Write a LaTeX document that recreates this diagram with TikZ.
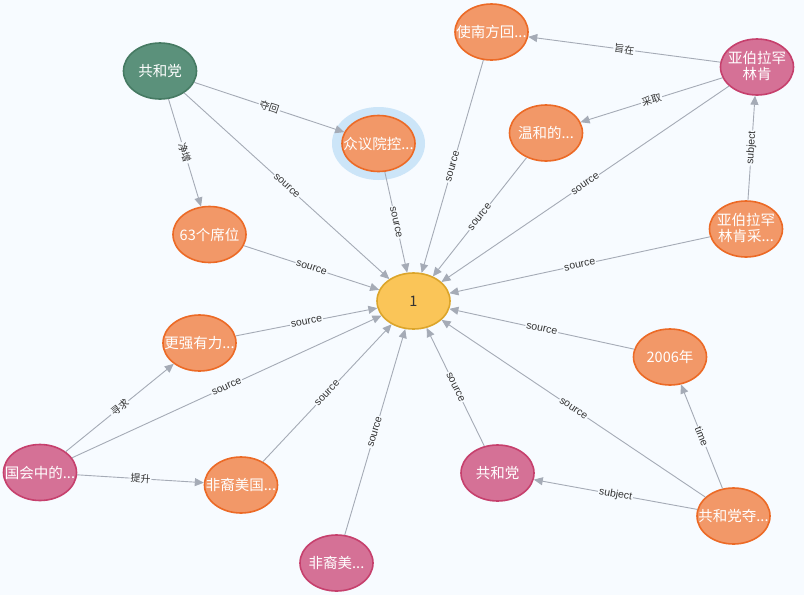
\documentclass[tikz,border=0pt]{standalone}
\usepackage{fontspec}
\setmainfont{Liberation Sans}
\newfontfamily\cjk{Noto Sans CJK SC}
\usetikzlibrary{arrows.meta,shapes.geometric}
\definecolor{bg}{HTML}{F7FBFF}
\definecolor{ofill}{HTML}{F29868}
\definecolor{oline}{HTML}{EC6A26}
\definecolor{pfill}{HTML}{D57196}
\definecolor{pline}{HTML}{C6406D}
\definecolor{gfill}{HTML}{5B917B}
\definecolor{gline}{HTML}{467A63}
\definecolor{yfill}{HTML}{FAC558}
\definecolor{yline}{HTML}{DCA52A}
\definecolor{edgec}{HTML}{A5ABB6}
\definecolor{labc}{HTML}{333333}
\definecolor{haloc}{HTML}{CCE5F8}
\newcommand{\zt}[1]{\makebox[0pt]{#1}}
\newcommand{\zz}[2]{\makebox[0pt]{\begin{tabular}{@{}c@{}}#1\\#2\end{tabular}}}
\begin{document}
\begin{tikzpicture}[x=1pt,y=-1pt,
  base/.style={ellipse, minimum width=73pt, minimum height=56pt, inner sep=0pt,
    line width=1.6pt, text=white, font=\cjk\fontsize{14.5}{12.5}\selectfont},
  onode/.style={base, fill=ofill, draw=oline},
  pnode/.style={base, fill=pfill, draw=pline},
  gnode/.style={base, fill=gfill, draw=gline},
  ynode/.style={base, fill=yfill, draw=yline, text=labc},
  rel/.style={draw=edgec, line width=0.9pt, -{Triangle[length=9pt,width=8pt]}},
  lab/.style={font=\fontsize{10.5}{11}\selectfont, text=labc, fill=bg, inner sep=1pt, sloped, pos=0.5},
  clab/.style={lab, font=\cjk\fontsize{10}{11}\selectfont}
]
\fill[bg] (0,0) rectangle (804,595);
\useasboundingbox (0,0) rectangle (804,595);
\fill[haloc] (378.5,143.5) ellipse [x radius=46.5pt, y radius=36.5pt];

\node[gnode] (gop) at (160,71) {\zt{共和党}};
\node[onode] (zy) at (378.5,143.5) {\zt{众议院控...}};
\node[onode] (snf) at (491.5,32) {\zt{使南方回...}};
\node[pnode] (lk) at (757,67) {\zz{亚伯拉罕}{林肯}};
\node[onode] (whd) at (546,133) {\zt{温和的...}};
\node[onode] (xw) at (209.5,234.5) {\zt{63个席位}};
\node[onode] (lkc) at (746,229) {\zz{亚伯拉罕}{林肯采...}};
\node[ynode] (one) at (413.5,301) {\zt{1}};
\node[onode] (gqy) at (199.5,343) {\zt{更强有力...}};
\node[onode] (y2006) at (670,357) {\zt{2006年}};
\node[pnode] (ghz) at (40,472.5) {\zt{国会中的...}};
\node[onode] (fym) at (241,485) {\zt{非裔美国...}};
\node[pnode] (fy) at (336.5,563) {\zt{非裔美...}};
\node[pnode] (gop2) at (497.5,473) {\zt{共和党}};
\node[onode] (gdd) at (733.5,516) {\zt{共和党夺...}};

\draw[rel] (gop) -- node[clab]{夺回} (zy);
\draw[rel] (gop) -- node[clab]{净增} (xw);
\draw[rel] (gop) -- node[lab]{source} (one);
\draw[rel] (zy) -- node[lab]{source} (one);
\draw[rel] (snf) -- node[lab]{source} (one);
\draw[rel] (whd) -- node[lab]{source} (one);
\draw[rel] (lk) -- node[clab]{旨在} (snf);
\draw[rel] (lk) -- node[clab]{采取} (whd);
\draw[rel] (lk) -- node[lab]{source} (one);
\draw[rel] (lkc) -- node[lab]{subject} (lk);
\draw[rel] (lkc) -- node[lab]{source} (one);
\draw[rel] (xw) -- node[lab]{source} (one);
\draw[rel] (gqy) -- node[lab]{source} (one);
\draw[rel] (y2006) -- node[lab]{source} (one);
\draw[rel] (ghz) -- node[clab]{寻求} (gqy);
\draw[rel] (ghz) -- node[lab]{source} (one);
\draw[rel] (ghz) -- node[clab]{提升} (fym);
\draw[rel] (fym) -- node[lab]{source} (one);
\draw[rel] (fy) -- node[lab]{source} (one);
\draw[rel] (gop2) -- node[lab]{source} (one);
\draw[rel] (gdd) -- node[lab]{source} (one);
\draw[rel] (gdd) -- node[lab]{subject} (gop2);
\draw[rel] (gdd) -- node[lab]{time} (y2006);
\end{tikzpicture}
\end{document}
